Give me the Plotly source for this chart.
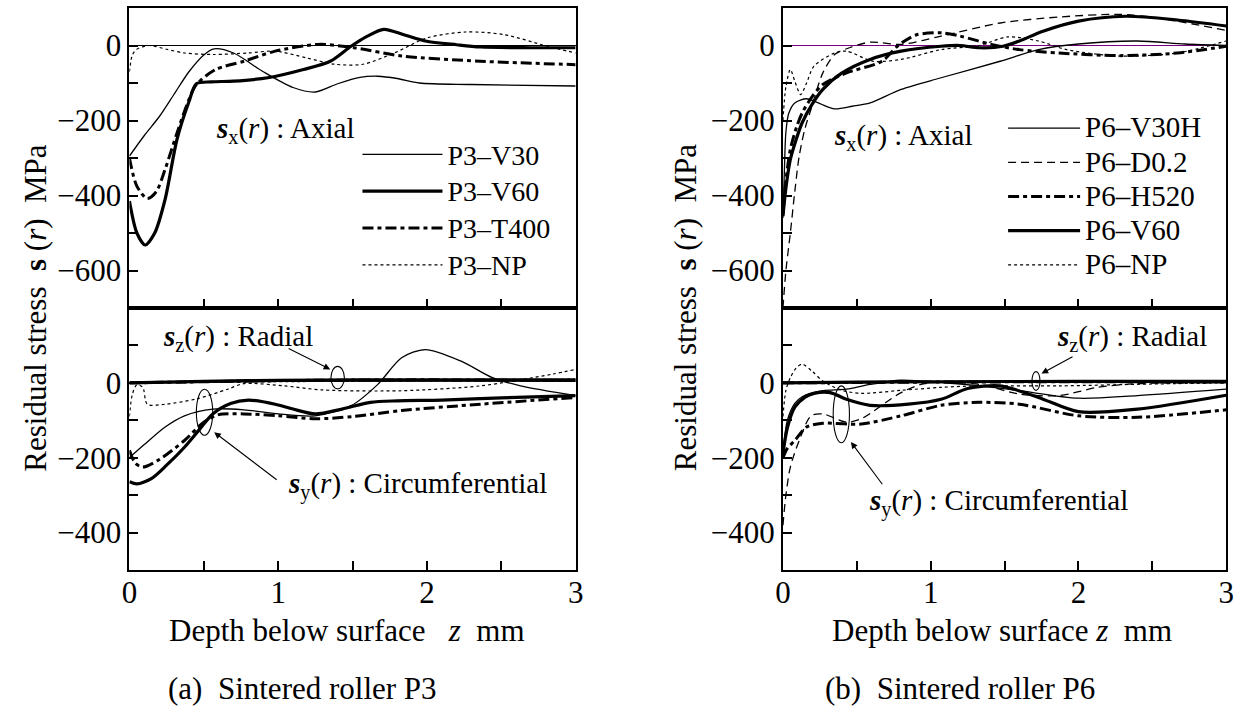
import plotly.graph_objects as go

# ---------------- DATA ----------------
# Sintered roller P3 : axial stress sigma_x
p3_v30_ax_z = [0, 0.1, 0.2, 0.3, 0.4, 0.5, 0.57, 0.7, 0.9, 1.1, 1.25, 1.4, 1.55, 1.67, 1.8, 1.95, 2.3, 3.0]
p3_v30_ax_s = [-295, -240, -190, -130, -70, -25, -9, -20, -70, -112, -124, -102, -85, -82, -88, -100, -104, -108]
p3_v60_ax_z = [0, 0.05, 0.106, 0.17, 0.24, 0.32, 0.40, 0.45, 0.55, 0.7, 0.93, 1.17, 1.35, 1.49, 1.6, 1.71, 1.85, 1.99, 2.2, 2.36, 2.7, 3.0]
p3_v60_ax_s = [-415, -500, -532, -500, -410, -250, -150, -102, -97, -95, -86, -64, -42, -2, 25, 43, 28, 12, 2, -4, -6, -6]
p3_t400_ax_z = [0, 0.05, 0.12, 0.18, 0.24, 0.32, 0.40, 0.45, 0.58, 0.77, 0.98, 1.27, 1.51, 1.83, 2.36, 3.0]
p3_t400_ax_s = [-300, -375, -408, -390, -330, -233, -144, -104, -64, -42, -15, 3, -6, -28, -42, -51]
p3_np_ax_z = [0, 0.02, 0.05, 0.13, 0.25, 0.37, 0.56, 0.8, 0.98, 1.19, 1.38, 1.57, 1.78, 2.0, 2.26, 2.52, 2.81, 3.0]
p3_np_ax_s = [-70, -25, -10, 0, -10, -20, -24, -20, -15, -33, -50, -50, -20, 20, 36, 29, -2, -20]

# Sintered roller P3 : circumferential sigma_y
p3_v30_ci_z = [0, 0.1, 0.24, 0.37, 0.56, 0.77, 1.0, 1.25, 1.49, 1.67, 1.83, 1.99, 2.23, 2.44, 2.63, 3.0]
p3_v30_ci_s = [-200, -165, -118, -88, -70, -72, -83, -88, -61, -4, 67, 89, 58, 14, -8, -34]
p3_v60_ci_z = [0, 0.05, 0.15, 0.25, 0.37, 0.47, 0.56, 0.68, 0.8, 0.98, 1.1, 1.25, 1.43, 1.62, 1.8, 2.1, 2.5, 3.0]
p3_v60_ci_s = [-264, -270, -255, -220, -172, -125, -83, -55, -46, -57, -70, -83, -70, -52, -48, -46, -40, -34]
p3_t400_ci_z = [0, 0.04, 0.09, 0.2, 0.37, 0.5, 0.6, 0.77, 1.0, 1.25, 1.5, 1.83, 2.36, 3.0]
p3_t400_ci_s = [-180, -215, -225, -205, -154, -105, -85, -83, -88, -96, -90, -74, -57, -39]
p3_np_ci_z = [0, 0.02, 0.05, 0.09, 0.12, 0.24, 0.45, 0.66, 0.77, 1.04, 1.3, 1.83, 2.36, 2.84, 3.0]
p3_np_ci_s = [-90, -30, -5, -12, -57, -57, -43, -17, -2, -8, -19, -21, -8, 23, 36]

# Sintered roller P3 : radial sigma_z
p3_rad_z = [0, 0.5, 1.0, 2.0, 3.0]
p3_v30_ra_s = [0, 2, 4, 5, 4]
p3_v60_ra_s = [0, 4, 7, 8, 8]
p3_t400_ra_s = [0, 3, 6, 8, 6]
p3_np_ra_s = [0, 1, 3, 6, 10]

# Sintered roller P6 : axial sigma_x
p6_v30h_ax_z = [0, 0.01, 0.02, 0.04, 0.08, 0.16, 0.25, 0.35, 0.47, 0.59, 0.8, 1.07, 1.47, 1.73, 2.0, 2.4, 2.72, 3.0]
p6_v30h_ax_s = [-460, -330, -230, -180, -153, -142, -155, -169, -162, -153, -117, -86, -42, -11, 4, 12, 4, 0]
p6_d02_ax_z = [0, 0.02, 0.05, 0.08, 0.11, 0.15, 0.19, 0.27, 0.35, 0.45, 0.59, 0.8, 1.07, 1.47, 1.87, 2.27, 2.53, 3.0]
p6_d02_ax_s = [-700, -600, -500, -390, -295, -220, -170, -73, -24, -6, 9, 3, 25, 60, 76, 83, 74, 40]
p6_h520_ax_z = [0, 0.02, 0.05, 0.09, 0.13, 0.2, 0.27, 0.43, 0.67, 0.78, 0.9, 1.07, 1.2, 1.41, 1.6, 1.87, 2.27, 2.67, 3.0]
p6_h520_ax_s = [-450, -360, -277, -220, -180, -135, -104, -73, -42, 0, 28, 34, 25, 3, -11, -20, -27, -20, -2]
p6_v60_ax_z = [0, 0.02, 0.05, 0.09, 0.13, 0.2, 0.27, 0.4, 0.59, 0.8, 1.07, 1.2, 1.33, 1.49, 1.6, 1.76, 2.0, 2.32, 2.67, 3.0]
p6_v60_ax_s = [-455, -380, -304, -250, -206, -155, -117, -73, -37, -15, -2, 0, -6, -2, 12, 38, 65, 78, 68, 52]
p6_np_ax_z = [0, 0.02, 0.05, 0.08, 0.12, 0.16, 0.21, 0.35, 0.43, 0.61, 0.8, 1.07, 1.33, 1.52, 1.73, 1.92, 2.27, 2.67, 3.0]
p6_np_ax_s = [-200, -110, -64, -95, -131, -100, -55, -20, -15, -42, -37, -11, 0, 23, 12, -11, -28, -20, 12]

# Sintered roller P6 : circumferential sigma_y
p6_v30h_ci_z = [0, 0.03, 0.08, 0.13, 0.27, 0.43, 0.59, 0.8, 1.07, 1.33, 1.6, 2.0, 2.4, 3.0]
p6_v30h_ci_s = [-190, -100, -55, -37, -21, -17, -4, 7, 1, -8, -21, -41, -34, -17]
p6_d02_ci_z = [0, 0.02, 0.05, 0.11, 0.19, 0.27, 0.43, 0.53, 0.8, 0.96, 1.33, 1.6, 1.87, 2.13, 2.4, 3.0]
p6_d02_ci_s = [-380, -300, -225, -154, -88, -83, -105, -96, -26, -2, -4, -30, -34, -12, -2, 0]
p6_h520_ci_z = [0, 0.03, 0.08, 0.16, 0.27, 0.53, 0.8, 1.07, 1.33, 1.6, 2.0, 2.4, 3.0]
p6_h520_ci_s = [-200, -175, -154, -118, -108, -110, -88, -60, -52, -57, -88, -92, -72]
p6_v60_ci_z = [0, 0.03, 0.08, 0.15, 0.21, 0.32, 0.43, 0.59, 0.85, 1.07, 1.25, 1.47, 1.73, 2.0, 2.4, 3.0]
p6_v60_ci_s = [-189, -120, -65, -38, -28, -26, -44, -60, -57, -44, -15, -8, -39, -77, -70, -33]
p6_np_ci_z = [0, 0.02, 0.05, 0.09, 0.13, 0.2, 0.27, 0.4, 0.53, 0.8, 1.07, 1.33, 1.87, 2.5, 3.0]
p6_np_ci_s = [-90, -20, 14, 40, 50, 30, 5, -20, -28, -20, -12, -8, -8, -3, 0]

# Sintered roller P6 : radial sigma_z
p6_rad_z = [0, 0.5, 1.0, 2.0, 3.0]
p6_v30h_ra_s = [0, 1, 2, 3, 3]
p6_d02_ra_s = [0, 2, 3, 4, 4]
p6_h520_ra_s = [0, 1, 2, 3, 2]
p6_v60_ra_s = [0, 2, 3, 4, 4]
p6_np_ra_s = [0, 1, 1, 2, 2]

p3_names = ["P3\u2013V30", "P3\u2013V60", "P3\u2013T400", "P3\u2013NP"]
p6_names = ["P6\u2013V30H", "P6\u2013D0.2", "P6\u2013H520", "P6\u2013V60", "P6\u2013NP"]

y_ticks_top = [-600, -500, -400, -300, -200, -100, 0]
y_text_top = ["\u2212600", "", "\u2212400", "", "\u2212200", "", "0"]
y_ticks_bot = [-400, -300, -200, -100, 0, 100]
y_text_bot = ["\u2212400", "", "\u2212200", "", "0", ""]
x_ticks = [0, 0.5, 1, 1.5, 2, 2.5, 3]
x_text = ["0", "", "1", "", "2", "", "3"]

# ---------------- STYLES ----------------
THIN = dict(color="black", width=1.3, dash="solid")
THICK = dict(color="black", width=3.2, dash="solid")
DASHDOT = dict(color="black", width=3.0, dash="11px,4px,4px,4px")
LONGDASH = dict(color="black", width=1.3, dash="8px,5px")
SHORTDASH = dict(color="black", width=1.2, dash="3px,3px")

FONT = "Liberation Serif"

fig = go.Figure()

def add(z, s, line, xa, ya, name=None, legend=None, size=28):
    label = "" if name is None else '<span style="font-size:%dpx">%s</span>' % (size, name)
    fig.add_trace(go.Scatter(
        x=z, y=s, mode="lines", line=dict(shape="spline", smoothing=0.8, **line),
        xaxis=xa, yaxis=ya, name=label, showlegend=name is not None,
        legend=legend, hoverinfo="skip"))

# P3 axial (top-left)
add(p3_v30_ax_z, p3_v30_ax_s, THIN, "x", "y", p3_names[0], "legend")
add(p3_v60_ax_z, p3_v60_ax_s, THICK, "x", "y", p3_names[1], "legend")
add(p3_t400_ax_z, p3_t400_ax_s, DASHDOT, "x", "y", p3_names[2], "legend")
add(p3_np_ax_z, p3_np_ax_s, SHORTDASH, "x", "y", p3_names[3], "legend")
# P3 circumferential + radial (bottom-left)
add(p3_rad_z, p3_np_ra_s, SHORTDASH, "x3", "y3")
add(p3_rad_z, p3_v30_ra_s, THIN, "x3", "y3")
add(p3_rad_z, p3_t400_ra_s, DASHDOT, "x3", "y3")
add(p3_rad_z, p3_v60_ra_s, THICK, "x3", "y3")
add(p3_v30_ci_z, p3_v30_ci_s, THIN, "x3", "y3")
add(p3_v60_ci_z, p3_v60_ci_s, THICK, "x3", "y3")
add(p3_t400_ci_z, p3_t400_ci_s, DASHDOT, "x3", "y3")
add(p3_np_ci_z, p3_np_ci_s, SHORTDASH, "x3", "y3")

# P6 axial (top-right)
add(p6_v30h_ax_z, p6_v30h_ax_s, THIN, "x2", "y2", p6_names[0], "legend2", 29)
add(p6_d02_ax_z, p6_d02_ax_s, LONGDASH, "x2", "y2", p6_names[1], "legend2", 29)
add(p6_h520_ax_z, p6_h520_ax_s, DASHDOT, "x2", "y2", p6_names[2], "legend2", 29)
add(p6_v60_ax_z, p6_v60_ax_s, THICK, "x2", "y2", p6_names[3], "legend2", 29)
add(p6_np_ax_z, p6_np_ax_s, SHORTDASH, "x2", "y2", p6_names[4], "legend2", 29)
# P6 circumferential + radial (bottom-right)
add(p6_rad_z, p6_np_ra_s, SHORTDASH, "x4", "y4")
add(p6_rad_z, p6_d02_ra_s, LONGDASH, "x4", "y4")
add(p6_rad_z, p6_v30h_ra_s, THIN, "x4", "y4")
add(p6_rad_z, p6_h520_ra_s, DASHDOT, "x4", "y4")
add(p6_rad_z, p6_v60_ra_s, THICK, "x4", "y4")
add(p6_v30h_ci_z, p6_v30h_ci_s, THIN, "x4", "y4")
add(p6_d02_ci_z, p6_d02_ci_s, LONGDASH, "x4", "y4")
add(p6_h520_ci_z, p6_h520_ci_s, DASHDOT, "x4", "y4")
add(p6_v60_ci_z, p6_v60_ci_s, THICK, "x4", "y4")
add(p6_np_ci_z, p6_np_ci_s, SHORTDASH, "x4", "y4")

W, H = 1250, 713
def px(v): return v / W
def py(v): return 1 - v / H

XL = [px(123), px(575)]
XR = [px(785), px(1234)]
YT = [py(308), py(8)]
YB = [py(570), py(308)]

axis_common = dict(showline=True, linecolor="black", linewidth=2, mirror=True,
                   ticks="inside", ticklen=9, tickwidth=1.5, tickcolor="black",
                   showgrid=False, zeroline=False,
                   tickfont=dict(family=FONT, size=31, color="black"))

def xaxis(domain, anchor, labels):
    d = dict(axis_common, domain=domain, anchor=anchor, range=[0, 3],
             tickmode="array", tickvals=x_ticks, ticktext=x_text,
             showticklabels=labels, ticklabelstandoff=-6)
    return d

def yaxis(domain, anchor, rng, tv, tt, zl=False, zlc="black"):
    d = dict(axis_common, domain=domain, anchor=anchor, range=rng,
             tickmode="array", tickvals=tv, ticktext=tt)
    if zl:
        d.update(zeroline=True, zerolinecolor=zlc, zerolinewidth=1.2)
    return d

fig.update_layout(
    width=W, height=H, margin=dict(l=0, r=0, t=0, b=0),
    paper_bgcolor="white", plot_bgcolor="white",
    font=dict(family=FONT, size=30, color="black"),
    xaxis=xaxis(XL, "y", False),
    yaxis=yaxis(YT, "x", [-700, 100], y_ticks_top, y_text_top, True, "black"),
    xaxis2=xaxis(XR, "y2", False),
    yaxis2=yaxis(YT, "x2", [-700, 100], y_ticks_top, y_text_top, True, "#800080"),
    xaxis3=xaxis(XL, "y3", True),
    yaxis3=yaxis(YB, "x3", [-500, 200], y_ticks_bot, y_text_bot),
    xaxis4=xaxis(XR, "y4", True),
    yaxis4=yaxis(YB, "x4", [-500, 200], y_ticks_bot, y_text_bot),
    legend=dict(x=px(354), y=py(131), xanchor="left", yanchor="top",
                bgcolor="rgba(0,0,0,0)", font=dict(family=FONT, size=26),
                itemwidth=80, tracegroupgap=0),
    legend2=dict(x=px(1008), y=py(106), xanchor="left", yanchor="top",
                 bgcolor="rgba(0,0,0,0)", font=dict(family=FONT, size=24),
                 itemwidth=72, tracegroupgap=0),
    showlegend=True,
)

ann = []
def txt(x, y, text, xref, yref, size=30, xanchor="left", **kw):
    ann.append(dict(x=x, y=y, xref=xref, yref=yref, text=text, showarrow=False,
                    xanchor=xanchor, yanchor="middle",
                    font=dict(family=FONT, size=size, color="black"), **kw))

SX = "<b><i>s</i></b><sub>x</sub>(<i>r</i>) : Axial"
SY = "<b><i>s</i></b><sub>y</sub>(<i>r</i>) : Circumferential"
SZ = "<b><i>s</i></b><sub>z</sub>(<i>r</i>) : Radial"

txt(0.57, -225, SX, "x", "y", 29)
txt(0.33, -245, SX, "x2", "y2", 29)
txt(0.21, 120, SZ, "x3", "y3", 29)
txt(1.05, -275, SY, "x3", "y3", 29)
txt(1.84, 120, SZ, "x4", "y4", 29)
txt(0.57, -320, SY, "x4", "y4", 29)

# arrows
def arrow(x, y, ax, ay, xr, yr):
    ann.append(dict(x=x, y=y, ax=ax, ay=ay, xref=xr, yref=yr, axref=xr, ayref=yr,
                    showarrow=True, arrowhead=2, arrowsize=1.2, arrowwidth=1.1,
                    arrowcolor="black", text=""))
arrow(1.35, 36, 1.06, 94, "x3", "y3")
arrow(0.57, -132, 1.0, -262, "x3", "y3")
arrow(1.75, 25, 1.97, 72, "x4", "y4")
arrow(0.46, -158, 0.68, -275, "x4", "y4")

def ptext(x, y, text, size=31, xanchor="center", angle=0):
    ann.append(dict(x=px(x), y=py(y), xref="paper", yref="paper", text=text,
                    textangle=angle, showarrow=False, xanchor=xanchor, yanchor="middle",
                    font=dict(family=FONT, size=size, color="black")))

# y titles
ytitle = "Residual stress\u00a0\u00a0<b>s</b>\u00a0(<i>r</i>)\u00a0\u00a0MPa"
ptext(27, 308, ytitle, angle=-90)
ptext(686, 308, ytitle, angle=-90)
# x titles
ptext(343, 630, "Depth below surface\u00a0\u00a0\u00a0<i>z</i>\u00a0\u00a0mm")
ptext(1007, 630, "Depth below surface\u00a0<i>z</i>\u00a0\u00a0mm")
# captions
ptext(160, 688, "(a)\u00a0\u00a0Sintered roller P3", xanchor="left")
ptext(826, 688, "(b)\u00a0\u00a0Sintered roller P6", xanchor="left")
fig.update_layout(annotations=ann)

# ellipses marking curve groups
shapes = [
    dict(type="circle", xref="x3", yref="y3", x0=1.355, x1=1.445, y0=-16, y1=44,
         line=dict(color="black", width=1.1)),
    dict(type="circle", xref="x3", yref="y3", x0=0.45, x1=0.56, y0=-140, y1=-17,
         line=dict(color="black", width=1.1)),
    dict(type="circle", xref="x4", yref="y4", x0=1.685, x1=1.74, y0=-20, y1=30,
         line=dict(color="black", width=1.1)),
    dict(type="circle", xref="x4", yref="y4", x0=0.34, x1=0.45, y0=-160, y1=-8,
         line=dict(color="black", width=1.1)),
]
fig.update_layout(shapes=shapes)

fig.write_html("out.html")
